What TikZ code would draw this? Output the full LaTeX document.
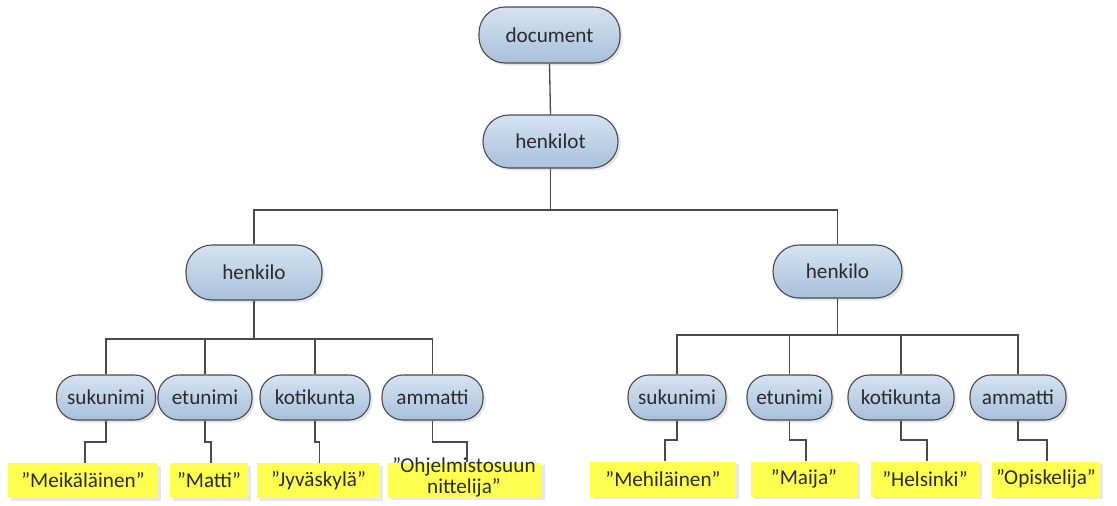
\documentclass[tikz,border=0pt]{standalone}
\usepackage{fontspec}
\setmainfont{Carlito}
\usetikzlibrary{shadows}
\definecolor{nodetop}{HTML}{D5E3F1}
\definecolor{nodebot}{HTML}{A8C0DB}
\definecolor{edgecol}{HTML}{4A4A4A}
\definecolor{txtcol}{HTML}{2B2B2B}
\definecolor{leafy}{HTML}{FFFF4F}
\begin{document}
\begin{tikzpicture}[x=1pt,y=-1pt,
  basenode/.style={draw=edgecol, line width=1.1pt, top color=nodetop, bottom color=nodebot,
    inner sep=0pt, text=txtcol, font=\fontsize{21.2}{23}\selectfont,
    drop shadow={opacity=0.2, shadow xshift=2.5pt, shadow yshift=-2.5pt}},
  bignode/.style={basenode, rounded corners=26pt},
  smallnode/.style={basenode, rounded corners=21pt, minimum height=45pt},
  leafbox/.style={fill=leafy, inner sep=0pt, text=txtcol, minimum height=35pt,
    font=\fontsize{21.2}{23}\selectfont,
    drop shadow={opacity=0.18, shadow xshift=2.5pt, shadow yshift=-2.5pt}},
  leaftext/.style={inner sep=0pt, text=txtcol, align=center, font=\fontsize{21.2}{21}\selectfont},
  conn/.style={draw=edgecol, line width=1.3pt}
]
\useasboundingbox (0,0) rectangle (1117,506);
% coordinates of bus levels
\coordinate (bus0) at (0,210);
\coordinate (busL) at (0,339);
\coordinate (busR) at (0,335);
\coordinate (jl) at (0,442);
\coordinate (jr) at (0,440);

% main nodes
\node[bignode, minimum width=141pt, minimum height=56pt] (doc) at (549.5,35) {document};
\node[bignode, minimum width=135pt, minimum height=53pt] (hk) at (550.5,141.5) {henkilot};
\node[bignode, minimum width=136pt, minimum height=55pt] (hL) at (254,272.5) {henkilo};
\node[bignode, minimum width=129pt, minimum height=53pt] (hR) at (837.5,271.5) {henkilo};

% left children
\node[smallnode, minimum width=99pt] (suk1) at (106,397.5) {sukunimi};
\node[smallnode, minimum width=94pt] (etu1) at (205,397.5) {etunimi};
\node[smallnode, minimum width=110pt] (kot1) at (315,397.5) {kotikunta};
\node[smallnode, minimum width=101pt] (amm1) at (432.5,397.5) {ammatti};
% right children
\node[smallnode, minimum width=98pt] (suk2) at (677,397.5) {sukunimi};
\node[smallnode, minimum width=85pt] (etu2) at (789.5,397.5) {etunimi};
\node[smallnode, minimum width=106pt] (kot2) at (901,397.5) {kotikunta};
\node[smallnode, minimum width=96pt] (amm2) at (1018,397.5) {ammatti};

% leaves left
\node[leafbox, minimum width=150pt] (v1) at (83,480.5) {”Meikäläinen”};
\node[leafbox, minimum width=78pt] (v2) at (209,480.5) {”Matti”};
\node[leafbox, minimum width=123pt] (v3) at (318.5,480.5) {”Jyväskylä”};
\node[leafbox, minimum width=154pt] (v4) at (465,480) {};
\node[leaftext] (v4t) at (464,477.5) {”Ohjelmistosuun\\nittelija”};
% leaves right
\node[leafbox, minimum width=146pt] (w1) at (663,479) {”Mehiläinen”};
\node[leafbox, minimum width=106pt] (w2) at (804,479) {”Maija”};
\node[leafbox, minimum width=108pt] (w3) at (925,479) {”Helsinki”};
\node[leafbox, minimum width=108pt] (w4) at (1046,479) {”Opiskelija”};

% connectors top
\draw[conn] (doc.south) -- (hk.north);
\draw[conn] (hk.south) -- (hk.south |- bus0) -| (hL.north);
\draw[conn] (hk.south |- bus0) -| (hR.north);

% henkilo to children
\draw[conn] (hL.south) -- (hL.south |- busL) -| (suk1.north);
\draw[conn] (hL.south |- busL) -| (etu1.north);
\draw[conn] (hL.south |- busL) -| (kot1.north);
\draw[conn] (hL.south |- busL) -| (amm1.north);
\draw[conn] (hR.south) -- (hR.south |- busR) -| (suk2.north);
\draw[conn] (hR.south |- busR) -| (etu2.north);
\draw[conn] (hR.south |- busR) -| (kot2.north);
\draw[conn] (hR.south |- busR) -| (amm2.north);

% children to leaves
\draw[conn] (suk1.south) -- (suk1.south |- jl) -| ([xshift=2pt]v1.north);
\draw[conn] (etu1.south) -- (etu1.south |- jl) -| ([xshift=2pt]v2.north);
\draw[conn] (kot1.south) -- (kot1.south |- jl) -| ([xshift=1pt]v3.north);
\draw[conn] (amm1.south) -- (amm1.south |- jl) -| ([xshift=2pt]v4.north);
\draw[conn] (suk2.south) -- (suk2.south |- jr) -| ([xshift=2pt]w1.north);
\draw[conn] (etu2.south) -- (etu2.south |- jr) -| ([xshift=2pt]w2.north);
\draw[conn] (kot2.south) -- (kot2.south |- jr) -| ([xshift=2pt]w3.north);
\draw[conn] (amm2.south) -- (amm2.south |- jr) -| ([xshift=1pt]w4.north);
\end{tikzpicture}
\end{document}
